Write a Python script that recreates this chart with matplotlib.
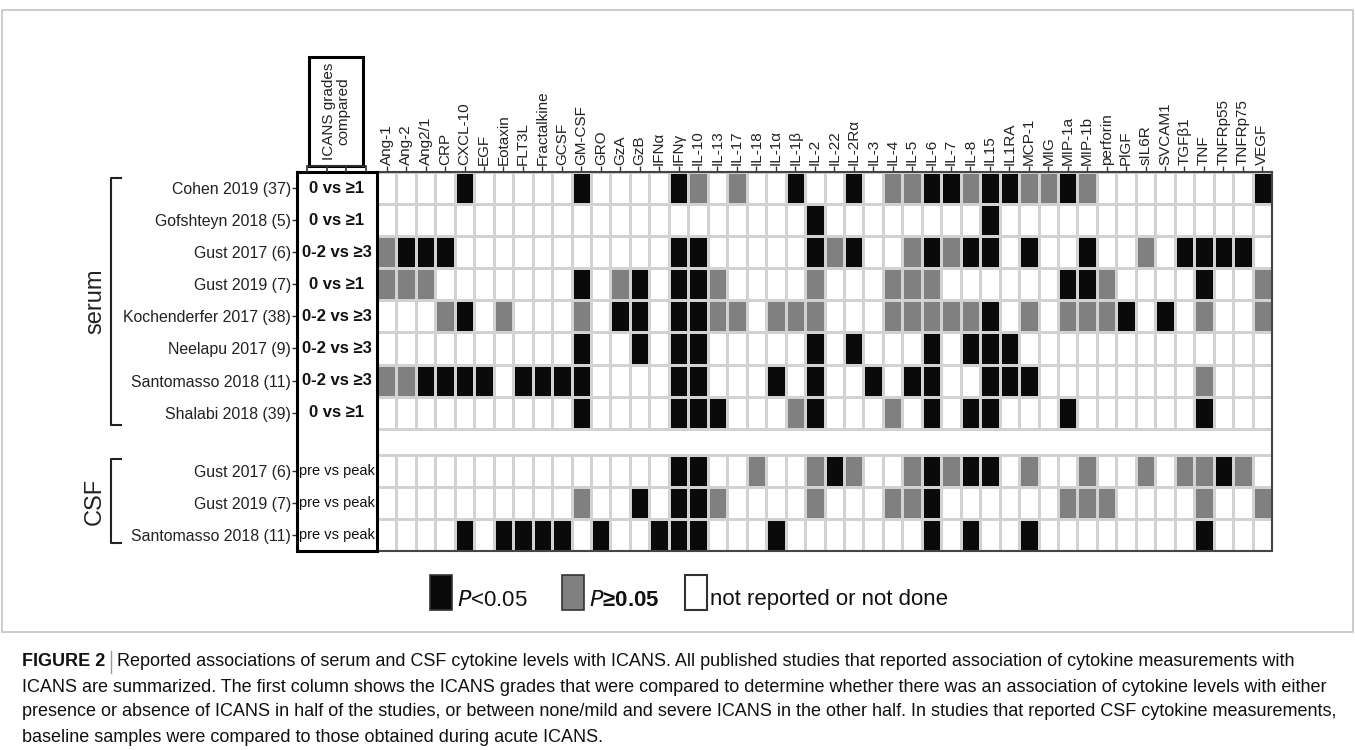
import numpy as np
import matplotlib.pyplot as plt
from matplotlib.colors import ListedColormap
from matplotlib.patches import Rectangle

plt.rcParams['font.family'] = ['Liberation Sans', 'DejaVu Sans']

cytokines = ["Ang-1", "Ang-2", "Ang2/1", "CRP", "CXCL-10", "EGF", "Eotaxin", "FLT3L",
             "Fractalkine", "GCSF", "GM-CSF", "GRO", "GzA", "GzB", "IFNα", "IFNγ",
             "IL-10", "IL-13", "IL-17", "IL-18", "IL-1α", "IL-1β", "IL-2", "IL-22",
             "IL-2Rα", "IL-3", "IL-4", "IL-5", "IL-6", "IL-7", "IL-8", "IL15", "IL1RA",
             "MCP-1", "MIG", "MIP-1a", "MIP-1b", "perforin", "PlGF", "sIL6R", "SVCAM1",
             "TGFβ1", "TNF", "TNFRp55", "TNFRp75", "VEGF"]

serum_studies = ["Cohen 2019 (37)", "Gofshteyn 2018 (5)", "Gust 2017 (6)", "Gust 2019 (7)",
                 "Kochenderfer 2017 (38)", "Neelapu 2017 (9)", "Santomasso 2018 (11)",
                 "Shalabi 2018 (39)"]
serum_grades = ["0 vs ≥1", "0 vs ≥1", "0-2 vs ≥3", "0 vs ≥1", "0-2 vs ≥3", "0-2 vs ≥3",
                "0-2 vs ≥3", "0 vs ≥1"]
csf_studies = ["Gust 2017 (6)", "Gust 2019 (7)", "Santomasso 2018 (11)"]
csf_grades = ["pre vs peak", "pre vs peak", "pre vs peak"]

# P<0.05 (black) per study
serum_sig = [
    ["CXCL-10", "GM-CSF", "IFNγ", "IL-1β", "IL-2Rα", "IL-6", "IL-7", "IL15", "IL1RA", "MIP-1a", "VEGF"],
    ["IL-2", "IL15"],
    ["Ang-2", "Ang2/1", "CRP", "IFNγ", "IL-10", "IL-2", "IL-2Rα", "IL-6", "IL-8", "IL15", "MCP-1",
     "MIP-1b", "TGFβ1", "TNF", "TNFRp55", "TNFRp75"],
    ["GM-CSF", "GzB", "IFNγ", "IL-10", "MIP-1a", "MIP-1b", "TNF"],
    ["CXCL-10", "GzA", "GzB", "IFNγ", "IL-10", "IL15", "PlGF", "SVCAM1"],
    ["GM-CSF", "GzB", "IFNγ", "IL-10", "IL-2", "IL-2Rα", "IL-6", "IL-8", "IL15", "IL1RA"],
    ["Ang2/1", "CRP", "CXCL-10", "EGF", "FLT3L", "Fractalkine", "GCSF", "GM-CSF", "IFNγ", "IL-10",
     "IL-1α", "IL-2", "IL-3", "IL-5", "IL-6", "IL15", "IL1RA", "MCP-1"],
    ["GM-CSF", "IFNγ", "IL-10", "IL-13", "IL-2", "IL-6", "IL-8", "IL15", "MIP-1a", "TNF"],
]
# P>=0.05 (grey) per study
serum_ns = [
    ["IL-10", "IL-17", "IL-4", "IL-5", "IL-8", "MCP-1", "MIG", "MIP-1b"],
    [],
    ["Ang-1", "IL-22", "IL-5", "IL-7", "sIL6R"],
    ["Ang-1", "Ang-2", "Ang2/1", "GzA", "IL-13", "IL-2", "IL-4", "IL-5", "IL-6", "perforin", "VEGF"],
    ["CRP", "Eotaxin", "GM-CSF", "IL-13", "IL-17", "IL-1α", "IL-1β", "IL-2", "IL-4", "IL-5", "IL-6",
     "IL-7", "IL-8", "MCP-1", "MIP-1a", "MIP-1b", "perforin", "TNF", "VEGF"],
    [],
    ["Ang-1", "Ang-2", "TNF"],
    ["IL-1β", "IL-4"],
]
csf_sig = [
    ["IFNγ", "IL-10", "IL-22", "IL-6", "IL-8", "IL15", "TNFRp55"],
    ["GzB", "IFNγ", "IL-10", "IL-6"],
    ["CXCL-10", "Eotaxin", "FLT3L", "Fractalkine", "GCSF", "GRO", "IFNα", "IFNγ", "IL-10", "IL-1α",
     "IL-6", "IL-8", "MCP-1", "TNF"],
]
csf_ns = [
    ["IL-18", "IL-2", "IL-2Rα", "IL-5", "IL-7", "MCP-1", "MIP-1b", "sIL6R", "TGFβ1", "TNF", "TNFRp75"],
    ["GM-CSF", "IL-13", "IL-2", "IL-4", "IL-5", "MIP-1a", "MIP-1b", "perforin", "TNF", "VEGF"],
    [],
]

caption = [
    "Reported associations of serum and CSF cytokine levels with ICANS. All published studies that reported association of cytokine measurements with",
    "ICANS are summarized. The first column shows the ICANS grades that were compared to determine whether there was an association of cytokine levels with either",
    "presence or absence of ICANS in half of the studies, or between none/mild and severe ICANS in the other half. In studies that reported CSF cytokine measurements,",
    "baseline samples were compared to those obtained during acute ICANS.",
]


def build(sig, ns):
    m = np.zeros((len(sig), len(cytokines)))
    for r in range(len(sig)):
        for c in ns[r]:
            m[r, cytokines.index(c)] = 1
        for c in sig[r]:
            m[r, cytokines.index(c)] = 2
    return m


serum_mat = build(serum_sig, serum_ns)
csf_mat = build(csf_sig, csf_ns)

W, H = 1355, 750
fig = plt.figure(figsize=(W / 100, H / 100), dpi=100)


def px_axes(x0, y0, x1, y1):
    return fig.add_axes([x0 / W, 1 - y1 / H, (x1 - x0) / W, (y1 - y0) / H])


gap = 26 / 32
n_s, n_c = len(serum_studies), len(csf_studies)
y_serum = np.arange(n_s + 1)
y_csf = n_s + gap + np.arange(n_c + 1)
row_centers = list(y_serum[:-1] + 0.5) + list(y_csf[:-1] + 0.5)
ymax = y_csf[-1]

cmap = ListedColormap(["white", "#808080", "#0a0a0a"])
xe = np.arange(len(cytokines) + 1)

# heat grid
ax = px_axes(377, 172, 1272, 551)
ax.pcolormesh(xe, y_serum, serum_mat, cmap=cmap, vmin=0, vmax=2, edgecolors="#d2d2d2", linewidth=1)
ax.pcolormesh(xe, y_csf, csf_mat, cmap=cmap, vmin=0, vmax=2, edgecolors="#d2d2d2", linewidth=1)
ax.set_xlim(0, len(cytokines))
ax.set_ylim(ymax, 0)
ax.xaxis.tick_top()
ax.set_xticks(xe[:-1] + 0.5)
ax.set_xticklabels(cytokines, rotation=90, fontsize=11, color="#222222")
ax.tick_params(axis="x", length=4, width=1, pad=1, color="#333333")
ax.set_yticks([])
ax.spines["left"].set_visible(False)
for s in ["top", "right", "bottom"]:
    ax.spines[s].set_color("#444444")
    ax.spines[s].set_linewidth(1.5)

# ICANS grades column
ag = px_axes(297, 172, 377, 551)
ag.set_xlim(0, 1)
ag.set_ylim(ymax, 0)
ag.set_xticks([])
ag.set_yticks(row_centers)
ag.set_yticklabels(serum_studies + csf_studies, fontsize=11.4, color="#222222")
ag.tick_params(axis="y", length=3.5, width=1, pad=1, color="#333333")
for s in ag.spines.values():
    s.set_linewidth(2.2)
    s.set_color("black")
for i, g in enumerate(serum_grades + csf_grades):
    bold = i < n_s
    ag.text(0.5, row_centers[i], g, ha="center", va="center",
            fontsize=12 if bold else 10.5, fontweight="bold" if bold else "normal",
            color="#111111")

# header box
ah = px_axes(307, 57, 366, 166)
ah.set_xlim(0, 59)
ah.set_ylim(0, 109)
ah.add_patch(Rectangle((2, 0), 54, 109, fill=False, lw=2.2, ec="black", clip_on=False))
for s in ["top", "left", "right"]:
    ah.spines[s].set_visible(False)
ah.spines["bottom"].set_color("#333333")
ah.spines["bottom"].set_linewidth(1.2)
ah.set_xticks([0.3, 19.7, 39, 58.7])
ah.set_xticklabels([])
ah.set_yticks([])
ah.tick_params(axis="x", length=4.3, width=1.2, color="#333333")
ah.text(29.5, 54.5, "ICANS grades\ncompared", rotation=90, ha="center", va="center",
        fontsize=11, color="#222222", linespacing=1.0)

# overlay for brackets, legend, frame, caption
ov = fig.add_axes([0, 0, 1, 1])
ov.set_xlim(0, W)
ov.set_ylim(H, 0)
ov.axis("off")

bk = dict(color="#222222", lw=1.5)
ov.plot([121, 111, 111, 121], [178, 178, 425, 425], **bk)
ov.text(95, 301, "serum", rotation=90, ha="center", va="center", fontsize=17, color="#222222")
ov.plot([121, 111, 111, 121], [459, 459, 543, 543], **bk)
ov.text(95, 501, "CSF", rotation=90, ha="center", va="center", fontsize=17, color="#222222")

# legend
ov.add_patch(Rectangle((430, 575), 22, 35, fc="#0a0a0a", ec="#333333", lw=1.2))
ov.text(457, 600, "$\\it{P}$<0.05", ha="left", va="center", fontsize=16, color="#111111")
ov.add_patch(Rectangle((562, 575), 22, 35, fc="#808080", ec="#333333", lw=1.2))
ov.text(589, 600, "$\\bf{\\it{P}}$≥0.05", ha="left", va="center", fontsize=16,
        fontweight="bold", color="#111111")
ov.add_patch(Rectangle((685, 575), 22, 35, fc="white", ec="#333333", lw=1.5))
ov.text(710, 600, "not reported or not done", ha="left", va="center", fontsize=16, color="#111111")

# frame
ov.add_patch(Rectangle((2, 10), 1351, 622, fill=False, ec="#c4c4c4", lw=1.2))

# caption
fig.canvas.draw()
r = fig.canvas.get_renderer()
t0 = ov.text(22, 662, "FIGURE 2", ha="left", va="center", fontsize=13, fontweight="bold", color="#111111")
bb = t0.get_window_extent(r)
x1 = bb.x1 + 6
ov.plot([x1, x1], [651, 673], color="#999999", lw=1)
ov.text(x1 + 6, 662, caption[0], ha="left", va="center", fontsize=13, color="#111111")
for i, line in enumerate(caption[1:]):
    ov.text(22, 687 + 25 * i, line, ha="left", va="center", fontsize=13, color="#111111")

fig.savefig("out.png", dpi=100)
